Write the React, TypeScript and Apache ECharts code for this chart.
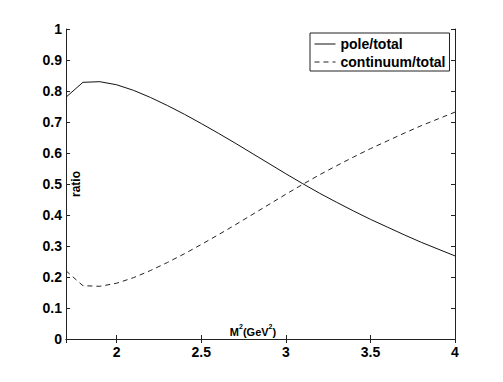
import React, { useEffect, useRef } from "react";
import * as echarts from "echarts";

const xValues = [1.7, 1.8, 1.9, 2.0, 2.1, 2.2, 2.3, 2.4, 2.5, 2.6, 2.7, 2.8, 2.9, 3.0, 3.1, 3.2, 3.3, 3.4, 3.5, 3.6, 3.7, 3.8, 3.9, 4.0];
const poleTotal = [0.78, 0.828, 0.83, 0.82, 0.802, 0.779, 0.753, 0.725, 0.695, 0.664, 0.632, 0.599, 0.566, 0.533, 0.501, 0.47, 0.441, 0.413, 0.386, 0.361, 0.336, 0.312, 0.29, 0.268];
const continuumTotal = [0.22, 0.172, 0.17, 0.18, 0.198, 0.221, 0.247, 0.275, 0.305, 0.336, 0.368, 0.401, 0.434, 0.467, 0.499, 0.53, 0.559, 0.587, 0.614, 0.639, 0.664, 0.688, 0.71, 0.732];
const seriesNames = ["pole/total", "continuum/total"];

const FONT = "Liberation Sans, Arial, Helvetica, sans-serif";
const AX = "#222";

export default function App() {
  const ref = useRef<HTMLDivElement>(null);
  useEffect(() => {
    if (!ref.current) return;
    const chart = echarts.init(ref.current, null, { renderer: "svg" });
    const xAxisBase = {
      type: "value" as const,
      min: 1.7,
      max: 4,
      minInterval: 0.5,
      maxInterval: 0.5,
      splitNumber: 5,
      axisLine: { show: true, lineStyle: { color: AX, width: 1 } },
      axisTick: { show: true, inside: true, length: 4, lineStyle: { color: AX } },
      splitLine: { show: false },
    };
    const yAxisBase = {
      type: "value" as const,
      min: 0,
      max: 1,
      interval: 0.1,
      axisLine: { show: true, lineStyle: { color: AX, width: 1 } },
      axisTick: { show: true, inside: true, length: 4, lineStyle: { color: AX } },
      splitLine: { show: false },
    };
    chart.setOption({
      animation: false,
      backgroundColor: "#fff",
      grid: { left: 66, right: 48, top: 29, bottom: 43 },
      xAxis: [
        {
          ...xAxisBase,
          position: "bottom",
          axisLabel: {
            show: true,
            showMinLabel: false,
            margin: 6,
            color: "#000",
            fontSize: 14,
            fontWeight: "bold",
            fontFamily: FONT,
          },
        },
        { ...xAxisBase, position: "top", axisLabel: { show: false } },
      ],
      yAxis: [
        {
          ...yAxisBase,
          position: "left",
          axisLabel: {
            show: true,
            margin: 4,
            color: "#000",
            fontSize: 14,
            fontWeight: "bold",
            fontFamily: FONT,
          },
        },
        { ...yAxisBase, position: "right", axisLabel: { show: false } },
      ],
      legend: {
        orient: "vertical",
        left: 310,
        top: 33,
        padding: [4, 4, 2, 4],
        itemGap: 4,
        itemWidth: 21,
        itemHeight: 14,
        itemStyle: { opacity: 0 },
        lineStyle: { width: 1 },
        borderColor: "#222",
        borderWidth: 1,
        backgroundColor: "#fff",
        borderRadius: 0,
        textStyle: { color: "#000", fontSize: 14, fontWeight: "bold", fontFamily: FONT },
        data: seriesNames,
      },
      graphic: [
        {
          type: "text",
          x: 76,
          y: 184,
          rotation: Math.PI / 2,
          style: {
            text: "ratio",
            fill: "#000",
            font: `bold 12px ${FONT}`,
            align: "center",
            verticalAlign: "middle",
          },
        },
        {
          type: "text",
          x: 253,
          y: 337,
          style: {
            text: "{a|M}{s|2}{a|(GeV}{s|2}{a|)}",
            fill: "#000",
            align: "center",
            verticalAlign: "bottom",
            rich: {
              a: { fontSize: 11, fontWeight: "bold", fontFamily: FONT, fill: "#000", lineHeight: 14, verticalAlign: "bottom" },
              s: { fontSize: 7, fontWeight: "bold", fontFamily: FONT, fill: "#000", lineHeight: 14, verticalAlign: "top" },
            },
          },
        },
      ],
      series: [
        {
          name: seriesNames[0],
          type: "line",
          data: xValues.map((x, i) => [x, poleTotal[i]]),
          symbol: "none",
          smooth: false,
          lineStyle: { color: "#111", width: 1, type: "solid" },
          itemStyle: { color: "#111" },
        },
        {
          name: seriesNames[1],
          type: "line",
          data: xValues.map((x, i) => [x, continuumTotal[i]]),
          symbol: "none",
          smooth: false,
          lineStyle: { color: "#222", width: 1, type: [5, 4] },
          itemStyle: { color: "#222" },
        },
      ],
    });
    return () => chart.dispose();
  }, []);
  return (
    <div
      ref={ref}
      style={{ position: "absolute", left: 0, top: 0, width: 503, height: 382 }}
    />
  );
}
